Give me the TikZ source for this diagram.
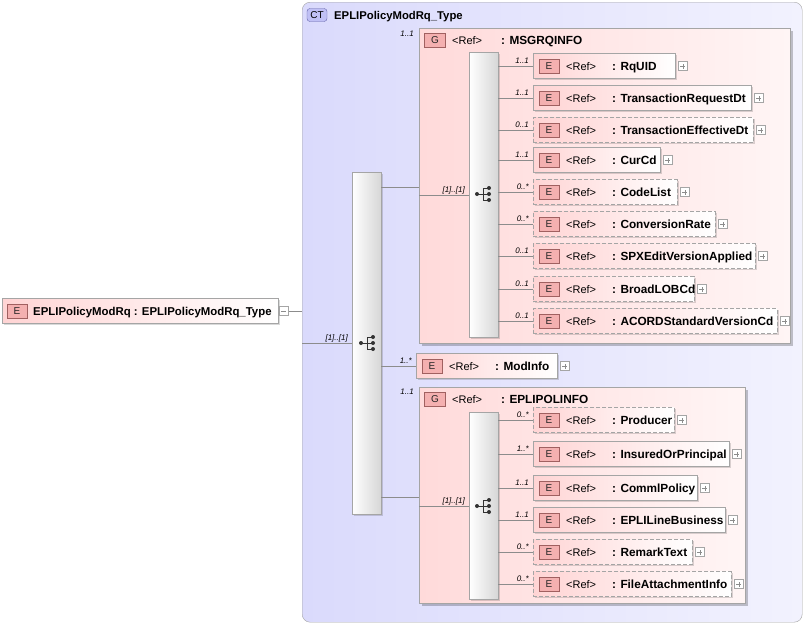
\documentclass[tikz,border=0pt]{standalone}
\usepackage{fontspec}
\setmainfont{Liberation Sans}
\usetikzlibrary{shadows}
\definecolor{ctl}{RGB}{218,218,252}
\definecolor{ctr}{RGB}{242,242,254}
\definecolor{grl}{RGB}{255,218,218}
\definecolor{grr}{RGB}{255,245,245}
\definecolor{ell}{RGB}{255,212,212}
\definecolor{bdr}{RGB}{165,165,165}
\definecolor{lnc}{RGB}{140,140,140}
\definecolor{bdgf}{RGB}{244,176,176}
\definecolor{bdgd}{RGB}{160,96,96}
\definecolor{ctf}{RGB}{192,192,245}
\definecolor{ctd}{RGB}{100,100,170}
\definecolor{icn}{RGB}{50,50,50}
\newcommand\xel[8]{%
  \node[elembox,#7,minimum width={#4-#2}] (#1) at (#2,#3) {};
  \draw[conn] (#1.west -| #8.east) -- (#1.west);
  \node[badge] at ([xshift=16]#1.west) {E};
  \node[reft] at ([xshift=33,yshift=-4]#1.west) {\textless Ref\textgreater};
  \node[namet] at ([xshift=79,yshift=-4]#1.west) {: #5};
  \node[plusbox] (#1p) at ([xshift=7.5]#1.east) {};
  \draw[plusline] ([xshift=-2.5]#1p.center) -- ([xshift=2.5]#1p.center)
                  ([yshift=-2.5]#1p.center) -- ([yshift=2.5]#1p.center);
  \node[card] at ([xshift=-4,yshift=2.5]#1.west) {#6};
}
\newcommand\seqico[1]{%
  \begin{scope}[shift={#1}]
    \draw[icn, line width=1] (-7,0) -- (-1,0) (-1,-6) -- (-1,6)
      (-1,-6) -- (5,-6) (-1,0) -- (5,0) (-1,6) -- (5,6);
    \fill[icn] (-7,0) circle (2) (5,-6) circle (2) (5,0) circle (2) (5,6) circle (2);
  \end{scope}}
\begin{document}
\begin{tikzpicture}[x=1pt,y=-1pt,
  elembox/.style={draw=bdr, left color=ell, right color=white, minimum height=25, inner sep=0, anchor=west,
    drop shadow={shadow xshift=1.5pt, shadow yshift=-1.5pt, fill=black, opacity=0.15}},
  dashb/.style={dash pattern=on 4pt off 2pt},
  badge/.style={draw=bdgd, fill=bdgf, minimum width=20, minimum height=14, inner sep=0,
    font=\fontsize{10}{10}\selectfont, text=black!85},
  reft/.style={anchor=base west, inner sep=0, font=\fontsize{11}{11}\selectfont},
  namet/.style={anchor=base west, inner sep=0, font=\fontsize{11.8}{12}\selectfont\bfseries},
  card/.style={anchor=base east, inner sep=0, font=\fontsize{8}{8}\selectfont\itshape},
  conn/.style={draw=lnc, line width=0.8},
  plusbox/.style={draw=bdr, fill=white, minimum size=9, inner sep=0},
  plusline/.style={draw=lnc, line width=0.7},
  grpbox/.style={draw=bdr, left color=grl, right color=grr, anchor=north west, inner sep=0,
    drop shadow={shadow xshift=3pt, shadow yshift=-3pt, fill=black, opacity=0.22}},
  seqbox/.style={draw=bdr, left color=white, right color=black!16, anchor=north west, inner sep=0,
    drop shadow={shadow xshift=1.5pt, shadow yshift=-1.5pt, fill=black, opacity=0.15}},
  ctbox/.style={draw=bdr, rounded corners=8, left color=ctl, right color=ctr, anchor=north west, inner sep=0}
]
\useasboundingbox (0,0) rectangle (806,625);
\fill[white] (0,0) rectangle (806,625);

% complex type container
\node[ctbox, minimum width=500, minimum height=620] (ct) at (302,2) {};
\node[draw=ctd, fill=ctf, rounded corners=3, minimum width=20, minimum height=13, inner sep=0,
  font=\fontsize{10}{10}\selectfont] (ctb) at (317,15) {CT};
\node[anchor=base west, inner sep=0, font=\fontsize{11.3}{12}\selectfont\bfseries] (ctt)
  at (334,19) {EPLIPolicyModRq\_Type};

% root element
\node[elembox, minimum width=276] (root) at (2,311) {};
\node[badge] at ([xshift=15]root.west) {E};
\node[anchor=base west, inner sep=0, font=\fontsize{11.4}{12}\selectfont\bfseries] (roott)
  at ([xshift=31,yshift=-4]root.west) {EPLIPolicyModRq : EPLIPolicyModRq\_Type};
\node[plusbox] (rootm) at ([xshift=5.5]root.east) {};
\draw[plusline] ([xshift=-2.5]rootm.center) -- ([xshift=2.5]rootm.center);
\draw[conn] (rootm.east) -- (rootm.east -| ct.west);

% outer sequence
\node[seqbox, minimum width=29, minimum height=342] (sO) at (352,172) {};
\coordinate (ctin) at (302,343);
\draw[conn] (ct.west |- ctin) -- (sO.west |- ctin);
\node[card, xshift=-4pt, yshift=2.5pt] at (sO.west |- ctin) {[1]..[1]};
\seqico{(368,343)}

% group MSGRQINFO
\coordinate (oA) at (0,187);
\coordinate (oB) at (0,497);
\node[grpbox, minimum width=371, minimum height=315] (gA) at (419,28) {};
\draw[conn] (sO.east |- oA) -- (gA.west |- oA);
\node[card, anchor=east] at ([xshift=-5pt,yshift=-6pt]gA.north west) {1..1};
\node[badge, minimum width=21] at ([xshift=16,yshift=-12]gA.north west) {G};
\node[reft] at ([xshift=33,yshift=-16]gA.north west) {\textless Ref\textgreater};
\node[namet] at ([xshift=82,yshift=-16]gA.north west) {: MSGRQINFO};
\node[seqbox, minimum width=29, minimum height=285] (sA) at (469,52) {};
\coordinate (aIn) at (0,195);
\draw[conn] (gA.west |- aIn) -- (sA.west |- aIn);
\node[card, xshift=-4pt, yshift=2.5pt] at (sA.west |- aIn) {[1]..[1]};
\seqico{(484,194)}

\xel{rq}{533}{66}{675}{RqUID}{1..1}{solid}{sA}
\xel{trd}{533}{98}{751}{TransactionRequestDt}{1..1}{solid}{sA}
\xel{ted}{533}{130}{753}{TransactionEffectiveDt}{0..1}{dashb}{sA}
\xel{cur}{533}{160}{660}{CurCd}{1..1}{solid}{sA}
\xel{cl}{533}{192}{677}{CodeList}{0..*}{dashb}{sA}
\xel{cr}{533}{224}{715}{ConversionRate}{0..*}{dashb}{sA}
\xel{spx}{533}{256}{755}{SPXEditVersionApplied}{0..1}{dashb}{sA}
\xel{blob}{533}{289}{694}{BroadLOBCd}{0..1}{dashb}{sA}
\xel{acord}{533}{321}{777}{ACORDStandardVersionCd}{0..1}{dashb}{sA}

% ModInfo
\xel{mod}{416}{366}{557}{ModInfo}{1..*}{solid}{sO}

% group EPLIPOLINFO
\node[grpbox, minimum width=326, minimum height=216] (gB) at (419,387) {};
\draw[conn] (sO.east |- oB) -- (gB.west |- oB);
\node[card, anchor=east] at ([xshift=-5pt,yshift=-5pt]gB.north west) {1..1};
\node[badge, minimum width=21] at ([xshift=16,yshift=-12]gB.north west) {G};
\node[reft] at ([xshift=33,yshift=-16]gB.north west) {\textless Ref\textgreater};
\node[namet] at ([xshift=82,yshift=-16]gB.north west) {: EPLIPOLINFO};
\node[seqbox, minimum width=29, minimum height=187] (sB) at (469,412) {};
\coordinate (bIn) at (0,506);
\draw[conn] (gB.west |- bIn) -- (sB.west |- bIn);
\node[card, xshift=-4pt, yshift=2.5pt] at (sB.west |- bIn) {[1]..[1]};
\seqico{(484,506)}

\xel{prod}{533}{420}{674}{Producer}{0..*}{dashb}{sB}
\xel{ins}{533}{454}{729}{InsuredOrPrincipal}{1..*}{solid}{sB}
\xel{comm}{533}{488}{697}{CommlPolicy}{1..1}{solid}{sB}
\xel{epl}{533}{520}{725}{EPLILineBusiness}{1..1}{solid}{sB}
\xel{rem}{533}{552}{692}{RemarkText}{0..*}{dashb}{sB}
\xel{file}{533}{584}{731}{FileAttachmentInfo}{0..*}{dashb}{sB}
\end{tikzpicture}
\end{document}
